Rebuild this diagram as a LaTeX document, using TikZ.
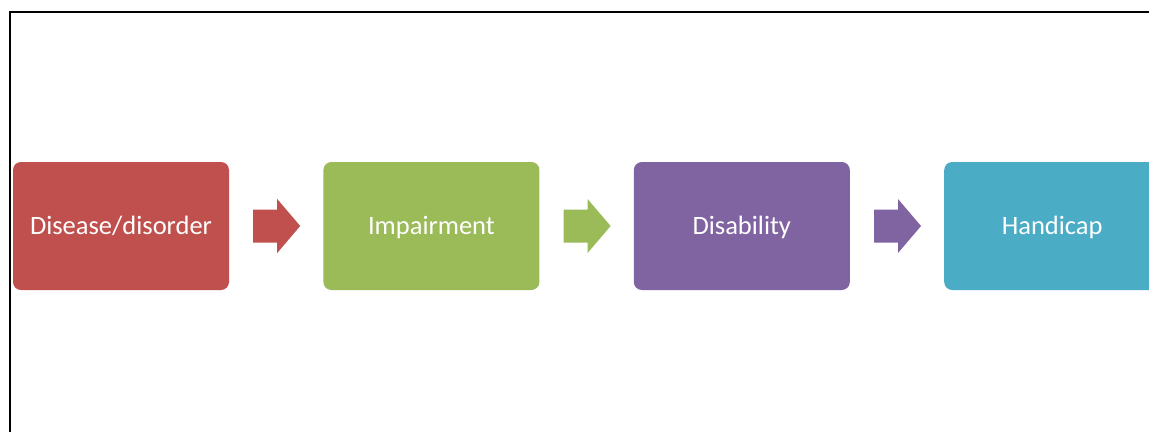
\documentclass[tikz,border=0pt]{standalone}
\usepackage{fontspec}
\setmainfont{Carlito}
\usepackage{tikz}
\usetikzlibrary{positioning}
\usetikzlibrary{calc}

\definecolor{diseasered}{HTML}{C0504D}
\definecolor{impairgreen}{HTML}{9BBB59}
\definecolor{disabpurple}{HTML}{8064A2}
\definecolor{handiblue}{HTML}{4BACC6}

% block arrow after a box: #1 = box name, #2 = colour
\newcommand{\blockarrow}[2]{%
  \fill[#2] ($(#1.east)+(24,-16.5)$) -- ++(24,0) -- ++(0,-10.5) -- ($(#1.east)+(71,0)$)
    -- ($(#1.east)+(48,27)$) -- ++(0,-10.5) -- ++(-24,0) -- cycle;}

\begin{document}
\begin{tikzpicture}[x=1pt, y=-1pt,
  stage/.style={rectangle, rounded corners=8pt, minimum width=216pt, minimum height=128pt,
    text=white, font=\fontsize{26.5}{30}\selectfont, inner sep=0pt,
    text height=17pt, text depth=0pt},
  node distance=94pt]

  \useasboundingbox (0,0) rectangle (1149,432);
  \fill[white] (0,0) rectangle (1149,432);

  % Frame
  \draw[line width=2pt] (9.5,432) |- (1149,11.5);

  % Define nodes
  \node[stage, fill=diseasered] (disease) at (121,226) {Disease/disorder};
  \node[stage, fill=impairgreen, right=of disease] (impairment) {Impairment};
  \node[stage, fill=disabpurple, right=of impairment] (disability) {Disability};
  \node[stage, fill=handiblue, right=of disability] (handicap) {Handicap};

  % Connect the nodes
  \blockarrow{disease}{diseasered}
  \blockarrow{impairment}{impairgreen}
  \blockarrow{disability}{disabpurple}

\end{tikzpicture}
\end{document}
